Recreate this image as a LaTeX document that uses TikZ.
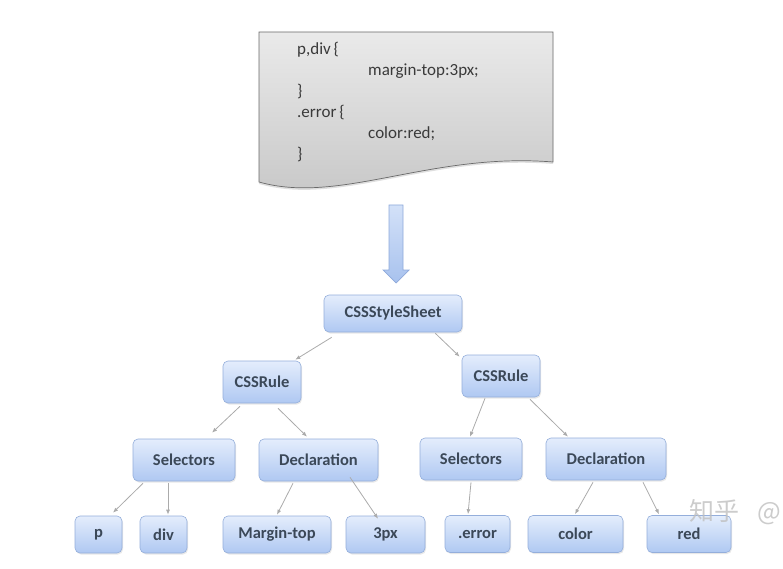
\documentclass[tikz,border=0pt]{standalone}
\usepackage{fontspec}
\setmainfont{Carlito}
\newfontfamily\cjkfont{Noto Sans CJK SC}
\usetikzlibrary{calc,arrows.meta,shadows}
\definecolor{boxtop}{HTML}{E4EDFC}
\definecolor{boxbot}{HTML}{AFC8F2}
\definecolor{boxline}{HTML}{94AEDB}
\definecolor{txt}{HTML}{3B4858}
\definecolor{codetxt}{HTML}{3A3A3A}
\definecolor{doctop}{HTML}{EAEAEA}
\definecolor{docbot}{HTML}{C6C6C6}
\definecolor{docline}{HTML}{6A6A6A}
\definecolor{edge}{HTML}{ABABAB}
\definecolor{bigtop}{HTML}{D3E1F8}
\definecolor{bigbot}{HTML}{A8C2EE}
\definecolor{bigline}{HTML}{8EA9DA}
\tikzset{
  tbox/.style={draw=boxline, line width=0.6pt, rounded corners=5pt,
    top color=boxtop, bottom color=boxbot, text=txt,
    font=\bfseries\fontsize{16.5}{18}\selectfont, inner sep=0pt,
    drop shadow={opacity=0.18, shadow xshift=1pt, shadow yshift=-1.5pt}},
  midbox/.style={tbox, minimum height=42pt},
  leafbox/.style={tbox, minimum height=37pt},
  code/.style={anchor=west, text=codetxt, font=\fontsize{17}{20}\selectfont, inner sep=0pt},
  link/.style={draw=edge, line width=0.8pt, -{Latex[length=5pt,width=4pt]}}
}
\begin{document}
\begin{tikzpicture}[x=1pt,y=-1pt]
\useasboundingbox (0,0) rectangle (783,569);
% document shape
\path[draw=docline, line width=0.7pt, top color=doctop, bottom color=docbot,
  drop shadow={opacity=0.25, shadow xshift=0pt, shadow yshift=-2pt}]
  (259,32) -- (553,32) -- (553,162)
  .. controls (430,152) and (340,205) .. (259,182) -- cycle;
\node[code] (c1) at (297,50) {p,div\,\{};
\node[code] (c2) at (368,71) {margin-top:3px;};
\node[code] (c3) at (297,92) {\}};
\node[code] (c4) at (297,113) {.error\,\{};
\node[code] (c5) at (368,134) {color:red;};
\node[code] (c6) at (297,155) {\}};
% big arrow
\path[draw=bigline, line width=0.7pt, top color=bigtop, bottom color=bigbot]
  (389,205) -- (403,205) -- (403,270) -- (409,270) -- (396,283)
  -- (383,270) -- (389,270) -- cycle;
% tree nodes
\node[tbox, minimum width=138pt, minimum height=37pt] (root) at (393,313.5) {CSSStyleSheet};
\node[midbox, minimum width=78pt] (ruleL) at (262,382) {CSSRule};
\node[midbox, minimum width=78pt] (ruleR) at (501,376) {CSSRule};
\node[midbox, minimum width=102pt] (selL) at (184,460) {Selectors};
\node[midbox, minimum width=119pt] (decL) at (318.5,460) {Declaration};
\node[midbox, minimum width=102pt] (selR) at (471,459) {Selectors};
\node[midbox, minimum width=120pt] (decR) at (606,459) {Declaration};
\node[leafbox, minimum width=47pt] (p) at (98.5,534.5) {p};
\node[leafbox, minimum width=47pt] (div) at (163.5,534.5) {div};
\node[leafbox, minimum width=108pt] (mt) at (277,534.5) {Margin-top};
\node[leafbox, minimum width=79pt] (tpx) at (385.5,534.5) {3px};
\node[leafbox, minimum width=65pt] (err) at (477.5,534) {.error};
\node[leafbox, minimum width=95pt] (col) at (575.5,534) {color};
\node[leafbox, minimum width=84pt] (red) at (689,534) {red};
% connectors
\draw[link] ($(root.south west)+(8,5)$) -- ($(ruleL.north east)+(-6,-1)$);
\draw[link] ($(root.south east)+(-27,1)$) -- ($(ruleR.north west)+(-2,2)$);
\draw[link] ($(ruleL.south)+(-22,3)$) -- ($(selL.north)+(28,-6)$);
\draw[link] ($(ruleL.south)+(16,5)$) -- ($(decL.north)+(-11.5,-2)$);
\draw[link] ($(selL.south)+(-41,2)$) -- ($(p.north)+(14.5,-3)$);
\draw[link] ($(selL.south)+(-16,2)$) -- ($(div.north)+(4.5,-1)$);
\draw[link] ($(decL.south)+(-25.5,2)$) -- ($(mt.north)+(0,-1)$);
\draw[link] ($(decL.south)+(31.5,-4)$) -- ($(tpx.north)+(-7.5,3)$);
\draw[link] ($(ruleR.south)+(-16,1)$) -- ($(selR.north)+(-1,-1)$);
\draw[link] ($(ruleR.south)+(29,2)$) -- ($(decR.north)+(-38,-1)$);
\draw[link] ($(selR.south)+(0,2)$) -- ($(err.north)+(-9.5,-1)$);
\draw[link] ($(decR.south)+(-13,2)$) -- ($(col.north)+(-0.5,-1)$);
\draw[link] ($(decR.south)+(37,2)$) -- ($(red.north)+(-30,-1)$);
% watermark
\node[anchor=west, inner sep=0pt, text=black!25, opacity=0.8, font=\cjkfont\fontsize{25}{28}\selectfont] (wm) at (689,512) {知乎\hspace{18pt}@};
\end{tikzpicture}
\end{document}
